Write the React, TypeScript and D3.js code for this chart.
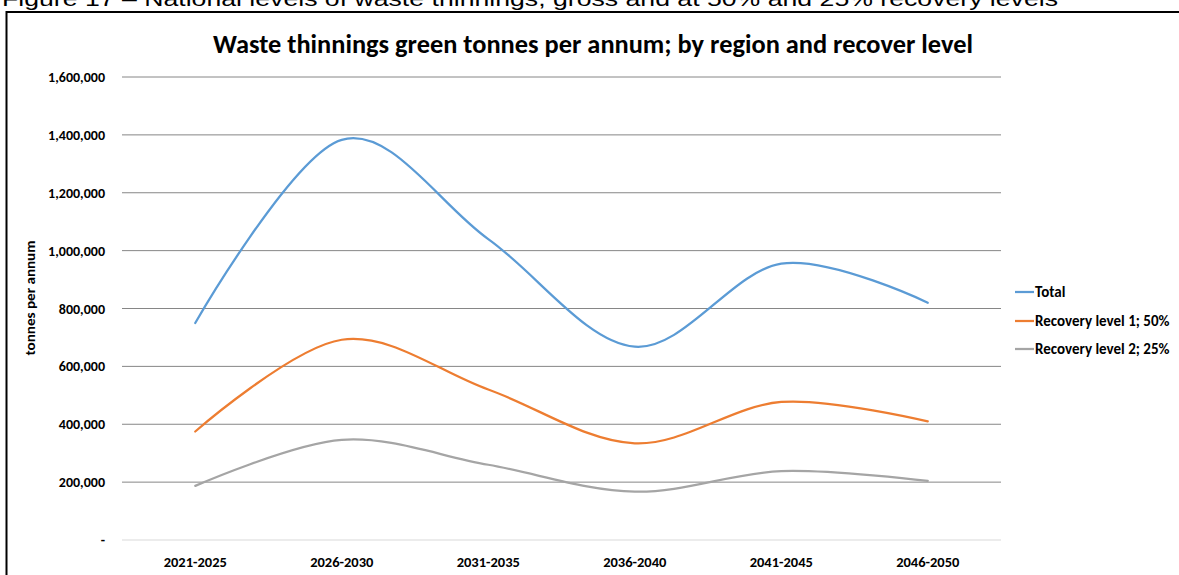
import React from "react";
import * as d3 from "d3";

const categories = ["2021-2025", "2026-2030", "2031-2035", "2036-2040", "2041-2045", "2046-2050"];
const totalValues = [750000, 1383000, 1040000, 668000, 955000, 820000];
const recovery1Values = [375000, 692000, 520000, 334000, 477000, 410000];
const recovery2Values = [187000, 346000, 260000, 167000, 238000, 204000];
const yTicks = [0, 200000, 400000, 600000, 800000, 1000000, 1200000, 1400000, 1600000];
const seriesNames = ["Total", "Recovery level 1; 50%", "Recovery level 2; 25%"];
const seriesColors = ["#5B9BD5", "#ED7D31", "#A5A5A5"];

const W = 1179;
const H = 575;
const plot = { left: 122, right: 1001, top: 77, bottom: 540 };
const font = "Carlito, Calibri, 'Open Sans', 'Liberation Sans', sans-serif";

export default function App() {
  const x = d3.scaleBand<string>().domain(categories).range([plot.left, plot.right]);
  const y = d3.scaleLinear().domain([0, 1600000]).range([plot.bottom, plot.top]);
  const cx = (c: string) => (x(c) as number) + x.bandwidth() / 2;
  const line = d3
    .line<number>()
    .x((_, i) => cx(categories[i]))
    .y((d) => y(d))
    .curve(d3.curveCardinal.tension(0));
  const series = [totalValues, recovery1Values, recovery2Values];
  const fmt = (v: number) => (v === 0 ? "-" : d3.format(",")(v));
  const legendY = [292, 321, 349];

  return (
    <svg width={W} height={H} style={{ position: "absolute", left: 0, top: 0, background: "#fff" }}>
      <rect x={0} y={0} width={W} height={H} fill="#fff" />
      <text x={2} y={6} fontFamily="'Liberation Sans', Arial, sans-serif" fontSize={21} fill="#000" textLength={1056} lengthAdjust="spacingAndGlyphs">
        Figure 17 – National levels of waste thinnings, gross and at 50% and 25% recovery levels
      </text>
      <rect x={6.5} y={12} width={W + 20} height={H + 20} fill="none" stroke="#000" strokeWidth={2} />
      <text x={593} y={53} textAnchor="middle" fontFamily={font} fontSize={26} fontWeight={600} fill="#000" textLength={760} lengthAdjust="spacingAndGlyphs">
        Waste thinnings green tonnes per annum; by region and recover level
      </text>
      {yTicks.map((t) => (
        <g key={t}>
          <line x1={plot.left} x2={plot.right} y1={y(t)} y2={y(t)} stroke={t === 0 ? "#D9D9D9" : "#868686"} strokeWidth={1} />
          <text x={105} y={y(t) + 5} textAnchor="end" fontFamily={font} fontSize={14} fontWeight={700} fill="#000">
            {fmt(t)}
          </text>
        </g>
      ))}
      {categories.map((c) => (
        <text key={c} x={cx(c)} y={567} textAnchor="middle" fontFamily={font} fontSize={14.5} fontWeight={700} fill="#000">
          {c}
        </text>
      ))}
      <text transform={`translate(35,298) rotate(-90)`} textAnchor="middle" fontFamily={font} fontSize={14} fontWeight={700} fill="#000" textLength={115} lengthAdjust="spacingAndGlyphs">
        tonnes per annum
      </text>
      {series.map((s, i) => (
        <path key={i} d={line(s) || ""} fill="none" stroke={seriesColors[i]} strokeWidth={2.25} strokeLinecap="round" />
      ))}
      {seriesNames.map((n, i) => (
        <g key={n}>
          <line x1={1015} x2={1034} y1={legendY[i]} y2={legendY[i]} stroke={seriesColors[i]} strokeWidth={2.25} />
          <text x={1035} y={legendY[i] + 5} fontFamily={font} fontSize={15} fontWeight={700} fill="#000">
            {n}
          </text>
        </g>
      ))}
    </svg>
  );
}
